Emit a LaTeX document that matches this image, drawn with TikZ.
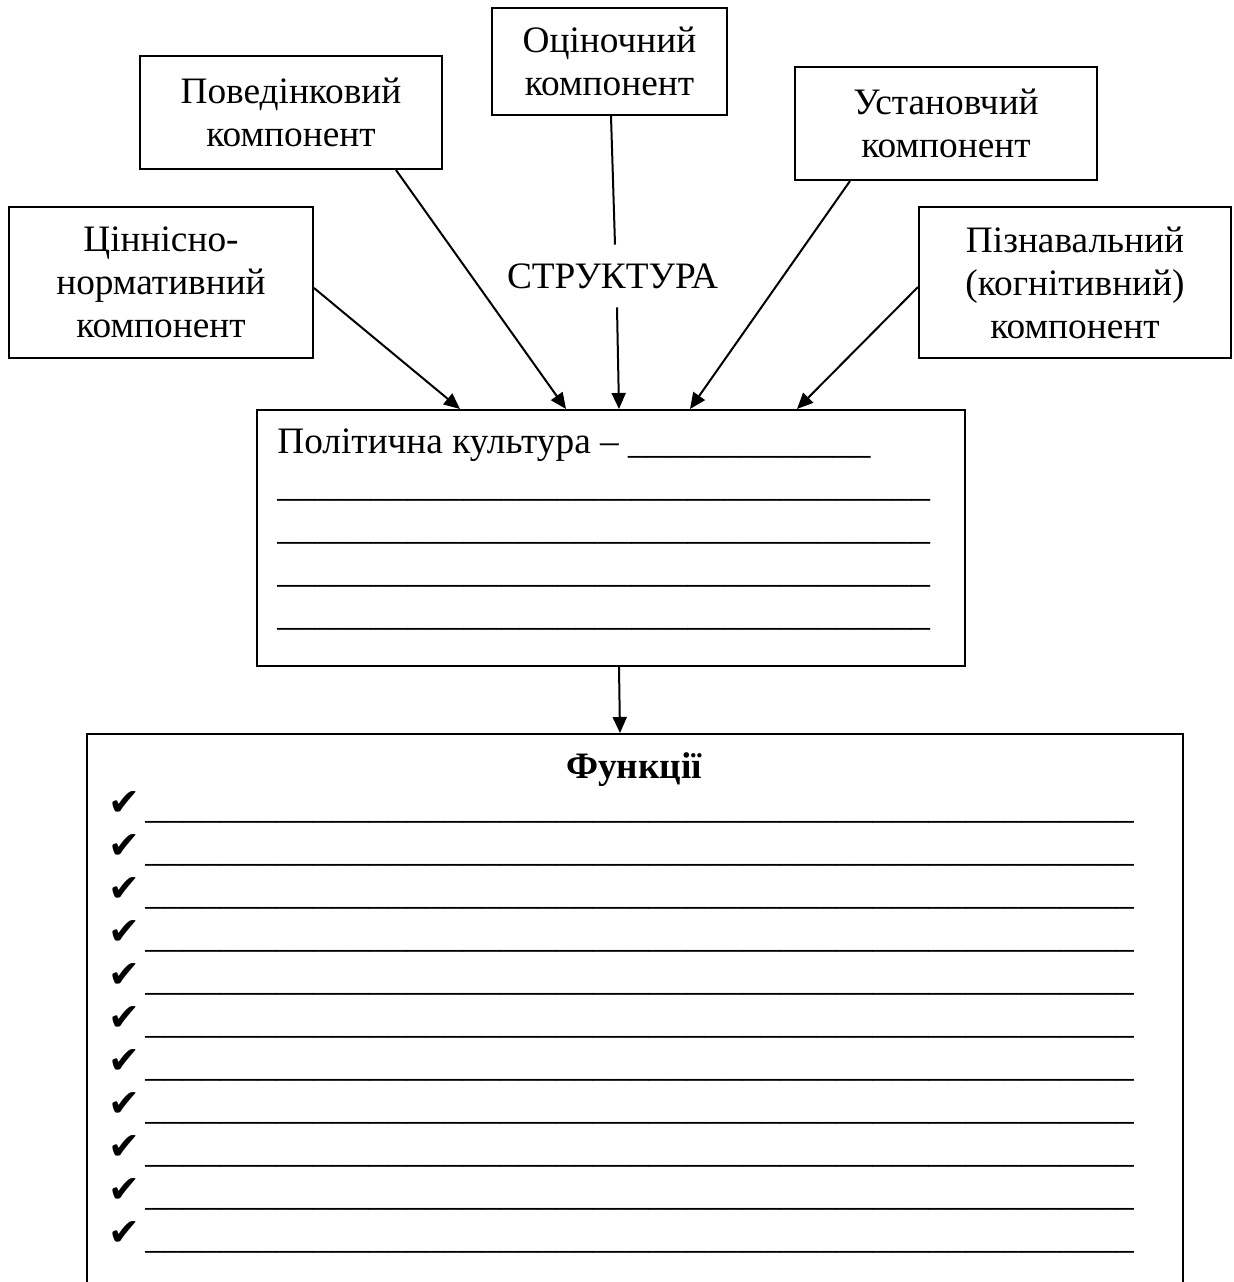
\documentclass[tikz,border=0pt]{standalone}
\usepackage{fontspec}
\setmainfont{Liberation Serif}
\newfontfamily\symfont{DejaVu Sans}
\usetikzlibrary{arrows.meta,calc}
\newcommand\usc[1]{\foreach \n in {1,...,#1}{\_}}
\begin{document}
\begin{tikzpicture}[x=0.5pt,y=-0.5pt,
  every node/.style={font=\fontsize{18.65}{21.5}\selectfont},
  box/.style={draw, line width=1pt, align=center, inner sep=0pt},
  arr/.style={line width=1pt, -{Triangle[length=8pt,width=7pt]}},
  plain/.style={inner sep=0pt, anchor=base west}]
\useasboundingbox (0,0) rectangle (1234,1282);
\node[box, minimum width=152pt, minimum height=75.5pt] (cin) at (161,282.5) {Ціннісно-\\нормативний\\компонент};
\node[box, minimum width=151pt, minimum height=56.5pt] (pov) at (291,112.5) {Поведінковий\\компонент};
\node[box, minimum width=117.5pt, minimum height=53.5pt] (oc) at (609.5,61.5) {Оціночний\\компонент};
\node[box, minimum width=151pt, minimum height=56.5pt] (ust) at (946,123.5) {Установчий\\компонент};
\node[box, minimum width=156pt, minimum height=75.5pt] (piz) at (1075,282.5) {Пізнавальний\\(когнітивний)\\компонент};
\node[inner sep=0pt, text height=21.5pt, text depth=9.5pt, anchor=base] (struct) at (612.5,288) {СТРУКТУРА};
\node[box, minimum width=354pt, minimum height=128pt] (main) at (611,538) {};
\node[box, minimum width=548pt, minimum height=300pt, anchor=north west] (fun) at (86,733) {};
\node[plain] (t0) at (277,453) {Політична культура – \usc{13}};
\foreach \k in {1,...,4} \node[plain] (t\k) at (277,{453+43*\k}) {\usc{35}};
\node[inner sep=0pt, anchor=base, font=\fontsize{18.65}{21.5}\selectfont\bfseries] (ftitle) at (634,778) {Функції};
\foreach \k in {0,...,10}{
  \node[plain, font=\symfont\fontsize{19}{22}\selectfont] (c\k) at (108,{815+43*\k}) {✔};
  \node[plain] (u\k) at (145,{818+43*\k}) {\usc{53}};
}
\draw[arr] ($(cin.east)+(0,5.5)$) -- ($(main.north west)+(204,0)$);
\draw[arr] ($(pov.south west)+(257,0)$) -- ($(main.north west)+(310,0)$);
\draw[line width=1pt] ($(oc.south)+(1.5,0)$) -- ($(struct.north)+(2.5,0)$);
\draw[arr] ($(struct.south)+(4.5,0)$) -- ($(main.north west)+(363,0)$);
\draw[arr] ($(ust.south west)+(56,0)$) -- ($(main.north west)+(434,0)$);
\draw[arr] ($(piz.west)+(0,4.5)$) -- ($(main.north west)+(541,0)$);
\draw[arr] ($(main.south west)+(363,0)$) -- ($(fun.north west)+(534,0)$);
\end{tikzpicture}
\end{document}
